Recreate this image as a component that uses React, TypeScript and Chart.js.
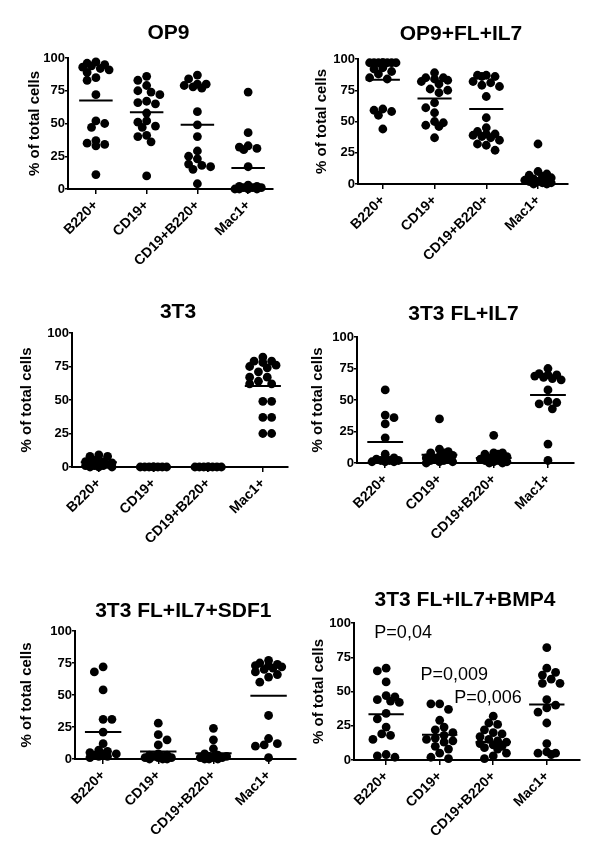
import React, { useEffect, useRef } from 'react';
import { Chart, registerables } from 'chart.js';

Chart.register(...registerables);

const FONT = 'Arial, "Liberation Sans", Helvetica, sans-serif';

// ---------- data ----------
const categories = ['B220+', 'CD19+', 'CD19+B220+', 'Mac1+'];
const yTicks = [0, 25, 50, 75, 100];

const op9_B220 = [97, 96, 95, 94, 93, 92, 91, 89, 85, 83, 72, 52, 50, 47, 37, 35, 34, 33, 11];
const op9_CD19 = [86, 83, 79, 75, 74, 72, 67, 66, 65, 58, 52, 51, 48, 47, 41, 40, 36, 10];
const op9_CD19B220 = [87, 84, 80, 80, 79, 78, 77, 59, 49, 40, 29, 25, 23, 19, 18, 17, 15, 4];
const op9_Mac1 = [74, 43, 33, 32, 31, 30, 17, 3, 2, 2, 1, 1, 1, 0, 0, 0, 0];
const op9_means = [67.5, 58.5, 49, 16];

const op9fl_B220 = [97, 97, 97, 97, 97, 97, 97, 97, 93, 92, 90, 88, 85, 84, 60, 59, 58, 55, 44];
const op9fl_CD19 = [89, 85, 85, 84, 83, 82, 80, 76, 75, 73, 65, 61, 57, 50, 49, 47, 46, 37];
const op9fl_CD19B220 = [87, 87, 86, 86, 82, 81, 79, 78, 70, 53, 45, 42, 40, 40, 39, 38, 37, 35, 32, 31, 27];
const op9fl_Mac1 = [32, 10, 8, 7, 6, 5, 4, 3, 3, 2, 2, 1, 1, 0, 0];
const op9fl_means = [83.5, 68.5, 60, 4];

const t3_B220 = [9, 8, 8, 5, 4, 4, 3, 3, 2, 2, 1, 1, 1, 0, 0, 0];
const t3_CD19 = [0, 0, 0, 0, 0, 0, 0, 0];
const t3_CD19B220 = [0, 0, 0, 0, 0, 0, 0, 0];
const t3_Mac1 = [82, 79, 79, 78, 76, 75, 74, 71, 67, 67, 64, 62, 62, 49, 49, 37, 37, 25, 25];
const t3_means = [3.5, 0, 0, 60.5];

const t3fl_B220 = [58, 38, 36, 31, 20, 7, 4, 3, 3, 2, 2, 2, 1, 1, 1];
const t3fl_CD19 = [35, 11, 9, 8, 8, 6, 5, 4, 3, 3, 2, 2, 1, 1, 0];
const t3fl_CD19B220 = [22, 8, 8, 7, 7, 5, 4, 3, 2, 2, 1, 1, 0, 0];
const t3fl_Mac1 = [75, 71, 70, 70, 69, 68, 67, 66, 58, 49, 48, 47, 43, 15, 2];
const t3fl_means = [16.7, 6.5, 4, 54];

const sdf_B220 = [72, 68, 54, 31, 31, 21, 12, 7, 6, 5, 4, 4, 3, 2, 2, 1];
const sdf_CD19 = [28, 19, 15, 11, 4, 3, 3, 2, 2, 1, 1, 1, 0, 0, 0];
const sdf_CD19B220 = [24, 15, 8, 4, 3, 2, 2, 1, 1, 1, 0, 0, 0];
const sdf_Mac1 = [77, 75, 74, 73, 73, 72, 71, 70, 68, 66, 64, 60, 34, 16, 12, 11, 10, 1];
const sdf_means = [21, 5.8, 4.5, 49.4];

const bmp_B220 = [67, 65, 57, 47, 46, 44, 43, 42, 34, 30, 24, 19, 18, 15, 4, 3, 2];
const bmp_CD19 = [41, 41, 37, 29, 24, 22, 20, 18, 16, 15, 14, 13, 10, 8, 5, 2, 1];
const bmp_CD19B220 = [32, 27, 26, 22, 20, 19, 17, 15, 14, 13, 12, 11, 10, 9, 8, 5, 3, 1];
const bmp_Mac1 = [82, 67, 64, 62, 59, 56, 56, 44, 40, 38, 35, 27, 12, 6, 5, 5, 4];
const bmp_means = [33.4, 18.5, 13.2, 40.5];

const bmp_pLabels = ['P=0,04', 'P=0,009', 'P=0,006'];
const bmp_pX = [-0.22, 0.64, 1.27];
const bmp_pY = [93, 62, 45];

// ---------- layout (page pixels) ----------
type Panel = {
  title: string;
  box: [number, number, number, number];
  plot: [number, number, number, number];
  xr: [number, number];
  yTitleGap: number;
  titleGap: number;
  series: number[][];
  means: number[];
  notes?: { labels: string[]; xs: number[]; ys: number[] };
};

const panels: Panel[] = [
  { title: 'OP9', box: [0, 0, 300, 280], plot: [68, 58, 273, 189], xr: [-0.55, 3.49], yTitleGap: 33, titleGap: 25,
    series: [op9_B220, op9_CD19, op9_CD19B220, op9_Mac1], means: op9_means },
  { title: 'OP9+FL+IL7', box: [300, 0, 300, 280], plot: [358, 59, 568, 184], xr: [-0.48, 3.58], yTitleGap: 36, titleGap: 25,
    series: [op9fl_B220, op9fl_CD19, op9fl_CD19B220, op9fl_Mac1], means: op9fl_means },
  { title: '3T3', box: [0, 280, 300, 290], plot: [72, 333, 288, 467], xr: [-0.49, 3.46], yTitleGap: 45, titleGap: 21,
    series: [t3_B220, t3_CD19, t3_CD19B220, t3_Mac1], means: t3_means },
  { title: '3T3 FL+IL7', box: [300, 280, 300, 290], plot: [357, 337, 574, 463], xr: [-0.52, 3.48], yTitleGap: 39, titleGap: 23,
    series: [t3fl_B220, t3fl_CD19, t3fl_CD19B220, t3fl_Mac1], means: t3fl_means },
  { title: '3T3 FL+IL7+SDF1', box: [0, 570, 300, 286], plot: [75, 631, 296, 759], xr: [-0.51, 3.49], yTitleGap: 48, titleGap: 20,
    series: [sdf_B220, sdf_CD19, sdf_CD19B220, sdf_Mac1], means: sdf_means },
  { title: '3T3 FL+IL7+BMP4', box: [300, 570, 300, 286], plot: [354, 623, 580, 760], xr: [-0.6, 3.62], yTitleGap: 35, titleGap: 23,
    series: [bmp_B220, bmp_CD19, bmp_CD19B220, bmp_Mac1], means: bmp_means,
    notes: { labels: bmp_pLabels, xs: bmp_pX, ys: bmp_pY } },
];

// beeswarm-style horizontal spreading (pixel offsets), derived from values
function swarm(vals: number[], ppu: number, d: number, maxOff: number): number[] {
  const n = vals.length;
  const order = vals.map((_, i) => i).sort((a, b) => vals[b] - vals[a]);
  const step = d * 0.5;
  const offs = new Array(n).fill(0);
  const placed: { x: number; y: number }[] = [];
  const thr = d * 0.88;
  let flip = 1;
  for (const i of order) {
    const cands = [0];
    for (let k = 1; k * step <= maxOff + 1e-6; k++) cands.push(flip * k * step, -flip * k * step);
    flip = -flip;
    const y = vals[i] * ppu;
    let chosen = 0;
    let bestMin = -1;
    for (const c of cands) {
      let m = Infinity;
      for (const q of placed) {
        const dd = Math.hypot(c - q.x, y - q.y);
        if (dd < m) m = dd;
      }
      if (m >= thr) { chosen = c; break; }
      if (m > bestMin) { bestMin = m; chosen = c; }
    }
    offs[i] = chosen;
    placed.push({ x: chosen, y });
  }
  return offs;
}

function PanelChart({ p }: { p: Panel }) {
  const ref = useRef<HTMLCanvasElement | null>(null);
  useEffect(() => {
    if (!ref.current) return;
    const [bx, by, bw, bh] = p.box;
    const [pl, pt, pr, pb] = p.plot;
    const ppu = (pb - pt) / 100;
    const ppc = (pr - pl) / (p.xr[1] - p.xr[0]);
    const datasets: any[] = [];
    p.series.forEach((vals, ci) => {
      const offs = swarm(vals, ppu, 8.8, 15);
      datasets.push({
        type: 'scatter',
        data: vals.map((v, i) => ({ x: ci + offs[i] / ppc, y: v })),
        pointRadius: 4.4,
        pointHoverRadius: 4.4,
        backgroundColor: '#000',
        borderWidth: 0,
        clip: false,
      });
    });
    p.means.forEach((m, ci) => {
      datasets.push({
        type: 'line',
        data: [{ x: ci - 0.33, y: m }, { x: ci + 0.33, y: m }],
        borderColor: '#000',
        borderWidth: 2,
        pointRadius: 0,
        showLine: true,
        fill: false,
        clip: false,
      });
    });

    const textPlugin = {
      id: 'panelText',
      afterDraw(chart: any) {
        const ctx = chart.ctx;
        const a = chart.chartArea;
        ctx.save();
        ctx.fillStyle = '#000';
        ctx.font = `bold 21px ${FONT}`;
        ctx.textAlign = 'center';
        ctx.textBaseline = 'middle';
        ctx.fillText(p.title, (a.left + a.right) / 2 - 2, a.top - p.titleGap);
        ctx.save();
        ctx.translate(a.left - p.yTitleGap, (a.top + a.bottom) / 2);
        ctx.rotate(-Math.PI / 2);
        ctx.font = `bold 15px ${FONT}`;
        ctx.fillText('% of total cells', 0, 0);
        ctx.restore();
        if (p.notes) {
          const xs = chart.scales.x;
          const ys = chart.scales.y;
          ctx.font = `18px ${FONT}`;
          ctx.textAlign = 'left';
          p.notes.labels.forEach((t, i) => {
            ctx.fillText(t, xs.getPixelForValue(p.notes!.xs[i]), ys.getPixelForValue(p.notes!.ys[i]));
          });
        }
        ctx.restore();
      },
    };

    const chart = new Chart(ref.current, {
      type: 'scatter',
      data: { datasets },
      options: {
        animation: false,
        responsive: false,
        devicePixelRatio: 1,
        events: [],
        layout: { padding: { left: 0, top: pt - by, right: bx + bw - pr, bottom: 0 } },
        plugins: { legend: { display: false }, tooltip: { enabled: false }, title: { display: false } },
        scales: {
          x: {
            type: 'linear',
            min: p.xr[0],
            max: p.xr[1],
            afterBuildTicks: (s: any) => { s.ticks = [0, 1, 2, 3].map((v) => ({ value: v })); },
            afterFit: (s: any) => { s.height = by + bh - pb; },
            ticks: {
              callback: (v: any) => categories[Math.round(Number(v))] ?? '',
              minRotation: 45,
              maxRotation: 45,
              autoSkip: false,
              padding: 3,
              color: '#000',
              font: { family: FONT, size: 14, weight: 'bold' },
            },
            grid: { drawOnChartArea: false, drawTicks: true, tickLength: 5, color: '#000', lineWidth: 1.5 },
            border: { display: true, color: '#000', width: 2 },
          },
          y: {
            type: 'linear',
            min: 0,
            max: 100,
            afterBuildTicks: (s: any) => { s.ticks = yTicks.map((v) => ({ value: v })); },
            afterFit: (s: any) => { s.width = pl - bx; },
            ticks: {
              color: '#000',
              padding: 0,
              font: { family: FONT, size: 13, weight: 'bold' },
            },
            grid: { drawOnChartArea: false, drawTicks: true, tickLength: 3, color: '#000', lineWidth: 1.5 },
            border: { display: true, color: '#000', width: 2 },
          },
        },
      } as any,
      plugins: [textPlugin],
    });
    return () => chart.destroy();
  }, [p]);
  const [bx, by, bw, bh] = p.box;
  return (
    <canvas
      ref={ref}
      width={bw}
      height={bh}
      style={{ position: 'absolute', left: bx, top: by, width: bw, height: bh }}
    />
  );
}

export default function App() {
  return (
    <div style={{ position: 'absolute', left: 0, top: 0, width: 600, height: 856, background: '#fff', overflow: 'hidden' }}>
      {panels.map((p) => (
        <PanelChart key={p.title} p={p} />
      ))}
    </div>
  );
}
